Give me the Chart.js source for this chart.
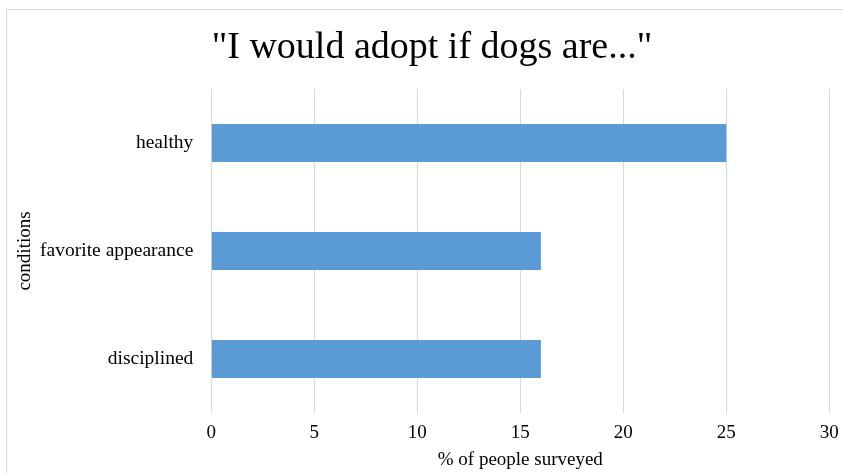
<!DOCTYPE html>
<html>
<head>
<meta charset="utf-8">
<script src="https://cdn.jsdelivr.net/npm/chart.js@4.4.1/dist/chart.umd.min.js"></script>
<style>
  html, body {
    margin: 0;
    padding: 0;
    background: #fff;
    overflow: hidden;
  }
  .frame {
    position: absolute;
    left: 6px;
    top: 9px;
    width: 900px;
    height: 520px;
    border: 1px solid #d9d9d9;
  }
  #chart {
    position: absolute;
    left: 0;
    top: 0;
  }
</style>
</head>
<body>
<div class="frame"></div>
<canvas id="chart" width="843" height="473"></canvas>
<script>
const categories = ['healthy', 'favorite appearance', 'disciplined'];
const percentSurveyed = [25, 16, 16];
const xTicks = [0, 5, 10, 15, 20, 25, 30];

const serif = "'Liberation Serif', 'Times New Roman', serif";

const ctx = document.getElementById('chart').getContext('2d');

new Chart(ctx, {
  type: 'bar',
  data: {
    labels: categories,
    datasets: [
      {
        label: '% of people surveyed',
        data: percentSurveyed,
        backgroundColor: '#5b9bd5',
        borderWidth: 0,
        barPercentage: 0.352,
        categoryPercentage: 1,
      },
    ],
  },
  options: {
    indexAxis: 'y',
    responsive: false,
    animation: false,
    layout: {
      padding: { left: 34.7, right: 13.7, top: 0, bottom: 0 },
    },
    plugins: {
      legend: { display: false },
      tooltip: { enabled: false },
      title: {
        display: true,
        text: '"I would adopt if dogs are..."',
        color: '#000',
        font: { family: serif, size: 38, weight: 'normal', lineHeight: 1.2 },
        padding: { top: 25, bottom: 18.4 },
      },
    },
    scales: {
      x: {
        min: xTicks[0],
        max: xTicks[xTicks.length - 1],
        afterBuildTicks: (scale) => {
          scale.ticks = xTicks.map((v) => ({ value: v }));
        },
        afterFit: (scale) => {
          scale.height = 60;
        },
        grid: {
          color: '#d9d9d9',
          lineWidth: 1,
          // invisible tick marks give the label gap without extra side padding
          drawTicks: true,
          tickLength: 8.6,
          tickColor: 'rgba(0,0,0,0)',
        },
        border: { display: false },
        ticks: {
          color: '#000',
          padding: 0,
          font: { family: serif, size: 19 },
        },
        title: {
          display: true,
          text: '% of people surveyed',
          color: '#000',
          font: { family: serif, size: 19 },
          padding: { top: 0, bottom: 1.6 },
        },
      },
      y: {
        afterFit: (scale) => {
          scale.width = 176.6;
        },
        grid: { display: false, drawTicks: false },
        border: { display: false },
        ticks: {
          color: '#000',
          padding: 18,
          font: { family: serif, size: 19.5 },
        },
        title: {
          display: true,
          text: 'conditions',
          color: '#000',
          font: { family: serif, size: 19 },
          // pulled left so the label sits near the frame edge
          padding: { top: -21.1, bottom: 0 },
        },
      },
    },
  },
});
</script>
</body>
</html>
